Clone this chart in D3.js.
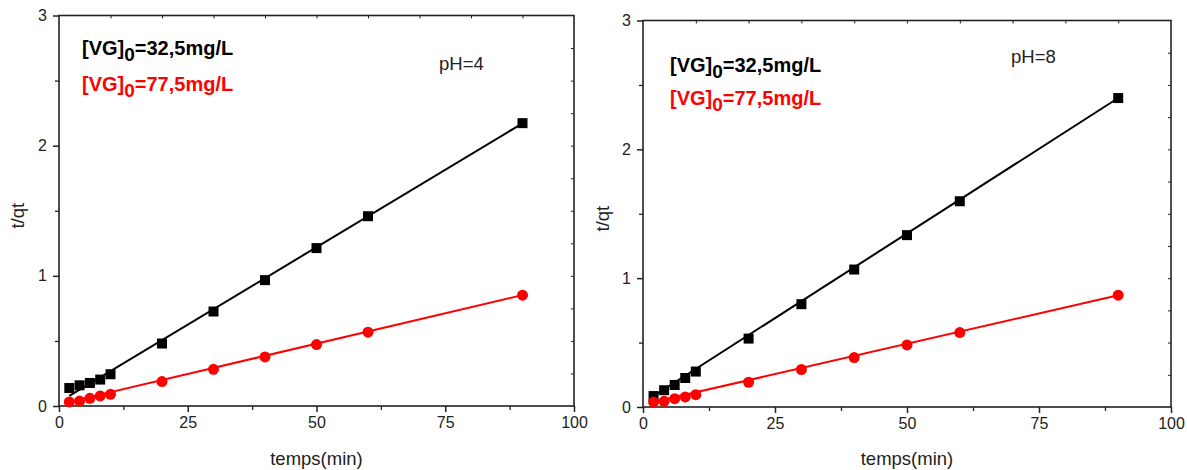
<!DOCTYPE html>
<html lang="en">
<head>
    <meta charset="UTF-8">
    <title>t/qt vs temps</title>
    <script src="https://d3js.org/d3.v7.min.js"></script>
    <style>
        body {
            margin: 0;
            background: white;
        }
        text {
            font-family: "Liberation Sans", Arial, sans-serif;
        }
    </style>
</head>
<body>
<svg id="viz"></svg>
<script>
    // time points (min)
    var temps = [2, 4, 6, 8, 10, 20, 30, 40, 50, 60, 90];

    // pH = 4
    var ph4_c325 = [0.138, 0.159, 0.177, 0.203, 0.244, 0.48, 0.726, 0.967, 1.213, 1.458, 2.173];
    var ph4_c775 = [0.031, 0.038, 0.059, 0.077, 0.09, 0.188, 0.282, 0.377, 0.472, 0.567, 0.851];
    // pH = 8
    var ph8_c325 = [0.085, 0.13, 0.171, 0.225, 0.275, 0.531, 0.798, 1.067, 1.334, 1.597, 2.398];
    var ph8_c775 = [0.039, 0.044, 0.065, 0.078, 0.096, 0.192, 0.291, 0.384, 0.482, 0.578, 0.868];

    // linear fits [intercept, slope]
    var ph4_fit325 = [0.03, 0.0238];
    var ph4_fit775 = [0.013, 0.00932];
    var ph8_fit325 = [0.033, 0.02628];
    var ph8_fit775 = [0.02, 0.00942];

    var xTicks = [0, 25, 50, 75, 100];
    var yTicks = [0, 1, 2, 3];
    var legendLabels = ["32,5mg/L", "77,5mg/L"];
    var phLabels = ["pH=4", "pH=8"];

    var W = 1187, H = 470;
    var FONT = "'Liberation Sans', Arial, sans-serif";
    var svg = d3.select("#viz").attr("width", W).attr("height", H);

    var panels = [
        {left: 59, right: 574, top: 15.5, bottom: 406, s1: ph4_c325, s2: ph4_c775, f1: ph4_fit325, f2: ph4_fit775,
            ph: phLabels[0], phX: 439, phY: 70, legX: 82, legY: [55, 91], ytX: 18},
        {left: 643, right: 1171, top: 20.5, bottom: 407, s1: ph8_c325, s2: ph8_c775, f1: ph8_fit325, f2: ph8_fit775,
            ph: phLabels[1], phX: 1011, phY: 63, legX: 670, legY: [72, 105], ytX: 603}
    ];

    function styleTicks(sel, w) {
        sel.select(".domain").remove();
        sel.selectAll("line").attr("stroke", "#222").attr("stroke-width", w);
        sel.selectAll("text").attr("font-size", 16).attr("fill", "#222").style("font-family", FONT);
    }

    panels.forEach(function (p) {
        var x = d3.scaleLinear().domain([0, 100]).range([p.left, p.right]);
        var y = d3.scaleLinear().domain([0, 3]).range([p.bottom, p.top]);
        var g = svg.append("g");

        // frame
        g.append("rect")
            .attr("x", p.left).attr("y", p.top)
            .attr("width", p.right - p.left).attr("height", p.bottom - p.top)
            .attr("fill", "none").attr("stroke", "#222").attr("stroke-width", 1.6);

        // bottom axis
        var gx = g.append("g").attr("transform", "translate(0," + p.bottom + ")")
            .call(d3.axisBottom(x).tickValues(xTicks).tickFormat(d3.format("d")).tickSize(6).tickPadding(5));
        styleTicks(gx, 1.5);
        var gxm = g.append("g").attr("transform", "translate(0," + p.bottom + ")")
            .call(d3.axisBottom(x).tickValues([12.5, 37.5, 62.5, 87.5]).tickSize(4).tickFormat(""));
        styleTicks(gxm, 1.3);

        // left axis
        var gy = g.append("g").attr("transform", "translate(" + p.left + ",0)")
            .call(d3.axisLeft(y).tickValues(yTicks).tickFormat(d3.format("d")).tickSize(6).tickPadding(6));
        styleTicks(gy, 1.5);
        var gym = g.append("g").attr("transform", "translate(" + p.left + ",0)")
            .call(d3.axisLeft(y).tickValues([0.5, 1.5, 2.5]).tickSize(4).tickFormat(""));
        styleTicks(gym, 1.3);

        // mirrored inner ticks on top and right
        var gt = g.append("g").attr("transform", "translate(0," + p.top + ")")
            .call(d3.axisBottom(x).tickValues(d3.range(10, 100, 10)).tickSize(3).tickFormat(""));
        styleTicks(gt, 1);
        var gr = g.append("g").attr("transform", "translate(" + p.right + ",0)")
            .call(d3.axisLeft(y).tickValues(d3.range(0.25, 3, 0.25)).tickSize(3).tickFormat(""));
        styleTicks(gr, 1);

        // axis titles
        g.append("text")
            .attr("x", (p.left + p.right) / 2).attr("y", 465)
            .attr("text-anchor", "middle").attr("font-size", 18.5).attr("fill", "#222")
            .text("temps(min)");
        g.append("text")
            .attr("transform", "translate(" + p.ytX + "," + ((p.top + p.bottom) / 2 + 5) + ") rotate(-90)")
            .attr("text-anchor", "middle").attr("dy", "0.35em").attr("font-size", 18.5).attr("fill", "#222")
            .text("t/qt");

        // fit lines
        [[p.f1, "#000"], [p.f2, "#ff0000"]].forEach(function (fc) {
            var f = fc[0];
            var xs = [temps[0], temps[temps.length - 1]];
            g.append("line")
                .attr("x1", x(xs[0])).attr("y1", y(f[0] + f[1] * xs[0]))
                .attr("x2", x(xs[1])).attr("y2", y(f[0] + f[1] * xs[1]))
                .attr("stroke", fc[1]).attr("stroke-width", 2);
        });

        // markers
        var pts1 = temps.map(function (t, i) { return {t: t, v: p.s1[i]}; });
        var pts2 = temps.map(function (t, i) { return {t: t, v: p.s2[i]}; });
        g.selectAll("rect.sq").data(pts1).enter().append("rect")
            .attr("class", "sq")
            .attr("x", function (d) { return x(d.t) - 5; })
            .attr("y", function (d) { return y(d.v) - 5; })
            .attr("width", 10).attr("height", 10)
            .attr("fill", "#000");
        g.selectAll("circle").data(pts2).enter().append("circle")
            .attr("cx", function (d) { return x(d.t); })
            .attr("cy", function (d) { return y(d.v); })
            .attr("r", 5.5)
            .attr("fill", "#ff0000");

        // legend text
        [["#000", legendLabels[0]], ["#ff0000", legendLabels[1]]].forEach(function (lc, i) {
            var t = g.append("text")
                .attr("x", p.legX).attr("y", p.legY[i])
                .attr("font-size", 20).attr("font-weight", "bold").attr("fill", lc[0]);
            t.append("tspan").text("[VG]");
            t.append("tspan").attr("dy", 6).attr("font-size", 19).text("0");
            t.append("tspan").attr("dy", -6).text("=" + lc[1]);
        });

        g.append("text")
            .attr("x", p.phX).attr("y", p.phY)
            .attr("font-size", 18.5).attr("fill", "#222")
            .text(p.ph);
    });
</script>
</body>
</html>
